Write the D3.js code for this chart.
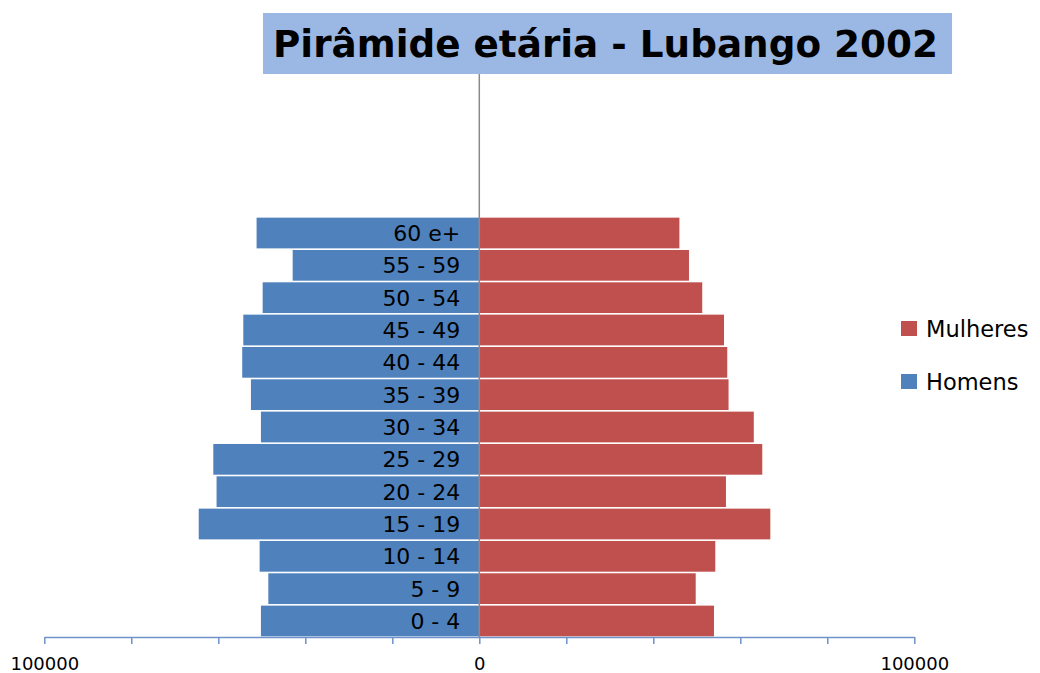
<!DOCTYPE html>
<html>
<head>
<meta charset="utf-8">
<script src="https://cdnjs.cloudflare.com/ajax/libs/d3/7.8.5/d3.min.js"></script>
<style>
  body { margin: 0; background: #fff; }
  svg text { font-family: "DejaVu Sans", sans-serif; fill: #000; }
</style>
</head>
<body>
<svg width="1040" height="673"></svg>
<script>
// age groups, bottom to top
var ageGroups = ["0 - 4", "5 - 9", "10 - 14", "15 - 19", "20 - 24", "25 - 29", "30 - 34",
                 "35 - 39", "40 - 44", "45 - 49", "50 - 54", "55 - 59", "60 e+"];
var homens   = [50200, 48500, 50500, 64500, 60400, 61150, 50200, 52500, 54500, 54250, 49800, 42900, 51200];
var mulheres = [53950, 49750, 54250, 66900, 56700, 65050, 63100, 57300, 57000, 56250, 51250, 48200, 46000];
var xTicks = [-100000, -80000, -60000, -40000, -20000, 0, 20000, 40000, 60000, 80000, 100000];
var xTickLabels = ["100000", "", "", "", "", "0", "", "", "", "", "100000"];
var legendItems = ["Mulheres", "Homens"];
var titleText = "Pirâmide etária - Lubango 2002";

var blue = "#4f81bd", red = "#c0504d";

var svg = d3.select("svg");

var x = d3.scaleLinear().domain([-100000, 100000]).range([44.3, 914.3]);
var y = d3.scaleBand().domain(ageGroups.slice().reverse()).range([217, 637]).paddingInner(0.05).paddingOuter(0.02);

var data = ageGroups.map(function(a, i) { return {age: a, h: homens[i], m: mulheres[i]}; });

// title box
svg.append("rect")
    .attr("x", 263).attr("y", 13)
    .attr("width", 689).attr("height", 61)
    .attr("fill", "#9bb7e4");
svg.append("text")
    .attr("x", 273).attr("y", 57)
    .attr("textLength", 665)
    .attr("lengthAdjust", "spacingAndGlyphs")
    .style("font-size", "37px")
    .style("font-weight", "bold")
    .text(titleText);

// bars
var g = svg.append("g");
g.selectAll(".bar-h")
    .data(data)
    .enter().append("rect")
        .attr("class", "bar-h")
        .attr("x", function(d) { return x(-d.h); })
        .attr("y", function(d) { return y(d.age); })
        .attr("width", function(d) { return x(0) - x(-d.h); })
        .attr("height", y.bandwidth())
        .attr("fill", blue);

g.selectAll(".bar-m")
    .data(data)
    .enter().append("rect")
        .attr("class", "bar-m")
        .attr("x", x(0))
        .attr("y", function(d) { return y(d.age); })
        .attr("width", function(d) { return x(d.m) - x(0); })
        .attr("height", y.bandwidth())
        .attr("fill", red);

// category labels
g.selectAll(".lbl")
    .data(data)
    .enter().append("text")
        .attr("class", "lbl")
        .attr("x", x(0) - 19)
        .attr("y", function(d) { return y(d.age) + y.bandwidth() / 2; })
        .attr("dy", "0.36em")
        .attr("text-anchor", "end")
        .style("font-size", "22px")
        .text(function(d) { return d.age; });

// vertical axis line
svg.append("line")
    .attr("x1", x(0)).attr("x2", x(0))
    .attr("y1", 74).attr("y2", 637)
    .attr("stroke", "#8a8a8a")
    .attr("stroke-width", 1.5);

// x axis
var xAxis = svg.append("g")
    .attr("transform", "translate(0,637)")
    .call(d3.axisBottom(x).tickValues(xTicks).tickSize(7).tickSizeOuter(0)
        .tickFormat(function(d, i) { return xTickLabels[i]; }));
xAxis.select(".domain").attr("stroke", "#6f93c9").attr("stroke-width", 1.5);
xAxis.selectAll(".tick line").attr("stroke", "#6f93c9").attr("stroke-width", 1.5);
xAxis.selectAll(".tick text")
    .attr("y", 20)
    .attr("dy", "0.71em")
    .style("font-family", "DejaVu Sans, sans-serif")
    .style("font-size", "18px")
    .attr("fill", "#000");

// legend
var legend = svg.append("g").attr("transform", "translate(901,321)");
var leg = legend.selectAll(".leg")
    .data(legendItems)
    .enter().append("g")
        .attr("class", "leg")
        .attr("transform", function(d, i) { return "translate(0," + (i * 53) + ")"; });
leg.append("rect")
    .attr("width", 16).attr("height", 15)
    .attr("fill", function(d, i) { return i === 0 ? red : blue; });
leg.append("text")
    .attr("x", 25)
    .attr("y", 7.5)
    .attr("dy", "0.36em")
    .style("font-size", "22.5px")
    .text(function(d) { return d; });
</script>
</body>
</html>
